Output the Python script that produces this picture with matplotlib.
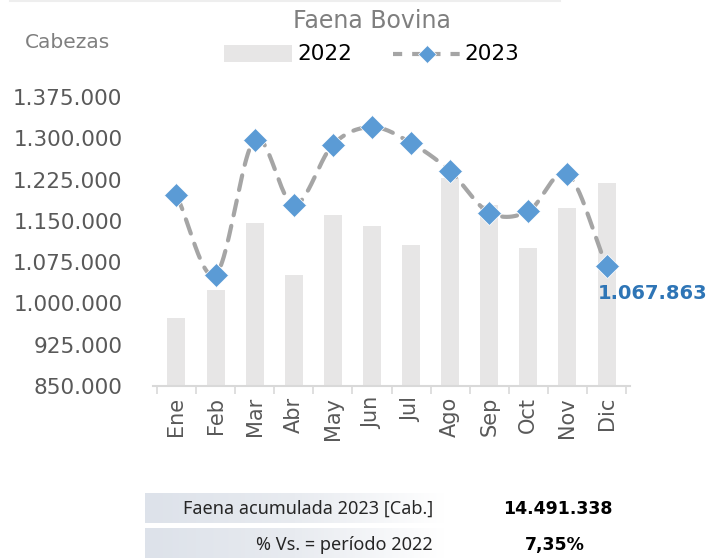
import numpy as np
import matplotlib
matplotlib.use("Agg")
import matplotlib.pyplot as plt
from matplotlib.colors import LinearSegmentedColormap
from matplotlib.lines import Line2D
from matplotlib.patches import Rectangle

meses = ["Ene", "Feb", "Mar", "Abr", "May", "Jun", "Jul", "Ago", "Sep", "Oct", "Nov", "Dic"]
faena_2022 = [974000, 1023500, 1146900, 1052400, 1161400, 1140900,
              1106600, 1227100, 1178900, 1101200, 1173500, 1219200]
faena_2023 = [1196400, 1052400, 1297600, 1178900, 1288500, 1320400,
              1291500, 1240300, 1165000, 1167500, 1234900, 1067863]
y_ticks = [850000, 925000, 1000000, 1075000, 1150000, 1225000, 1300000, 1375000]
acumulado = "14.491.338"
variacion = "7,35%"
ultimo_label = "1.067.863"

GRIS_TXT = "#595959"
GRIS_TIT = "#7f7f7f"
BAR_COLOR = "#e7e6e6"
LINE_COLOR = "#a5a5a5"
MARK_COLOR = "#5b9bd5"
SANS = ["Noto Sans", "DejaVu Sans"]


def miles(v):
    return f"{v:,.0f}".replace(",", ".")


# Catmull-Rom smoothing so the dashed line looks like Excel's smoothed line
def smooth(x, y, n=30):
    x = np.asarray(x, float)
    y = np.asarray(y, float)
    px = np.concatenate([[2 * x[0] - x[1]], x, [2 * x[-1] - x[-2]]])
    py = np.concatenate([[2 * y[0] - y[1]], y, [2 * y[-1] - y[-2]]])
    xs, ys = [], []
    t = np.linspace(0, 1, n)
    for i in range(1, len(px) - 2):
        for p, out in ((px, xs), (py, ys)):
            p0, p1, p2, p3 = p[i - 1], p[i], p[i + 1], p[i + 2]
            out.extend(0.5 * ((2 * p1) + (-p0 + p2) * t
                              + (2 * p0 - 5 * p1 + 4 * p2 - p3) * t ** 2
                              + (-p0 + 3 * p1 - 3 * p2 + p3) * t ** 3))
    return xs, ys


fig = plt.figure(figsize=(7.12, 5.58), dpi=100)
ax = fig.add_axes([153 / 712, 1 - 386 / 558, (630 - 153) / 712, (386 - 97) / 558])

x = np.arange(len(meses))
ax.bar(x, faena_2022, width=0.46, color=BAR_COLOR, zorder=1)
sx, sy = smooth(x, faena_2023)
ax.plot(sx, sy, color=LINE_COLOR, lw=3, ls=(0, (3.6, 2.6)), zorder=2,
        dash_capstyle="round")
ax.plot(x, faena_2023, ls="none", marker="D", ms=12, color=MARK_COLOR,
        mec="white", mew=0.5, zorder=3)
ax.text(x[-1] + 1.17, faena_2023[-1] - 49000, ultimo_label, ha="center", va="center",
        color="#2e75b6", fontsize=14, fontweight="bold", family="DejaVu Sans")

ax.set_xlim(-0.6, len(meses) - 0.4)
ax.set_ylim(y_ticks[0], y_ticks[-1])
ax.set_yticks(y_ticks)
ax.set_yticklabels([miles(v) for v in y_ticks], fontsize=15.5, color=GRIS_TXT)
ax.tick_params(axis="y", length=0, pad=22)
ax.set_xticks(x)
ax.set_xticklabels(meses, rotation=90, fontsize=15, color=GRIS_TXT)
ax.tick_params(axis="x", which="major", length=0, pad=8)
ax.set_xticks(np.arange(-0.5, len(meses), 1), minor=True)
ax.tick_params(axis="x", which="minor", length=6, color="#d9d9d9", width=1.2)
for s in ["top", "right", "left"]:
    ax.spines[s].set_visible(False)
ax.spines["bottom"].set_color("#d9d9d9")
ax.spines["bottom"].set_linewidth(1.5)

# header texts and legend
fig.add_artist(Line2D([10 / 712, 560 / 712], [1 - 1 / 558] * 2, color="#eeeeee", lw=1.5))
fig.text(372 / 712, 1 - 21 / 558, "Faena Bovina", ha="center", va="center",
         fontsize=17, color=GRIS_TIT)
fig.text(25 / 712, 1 - 42 / 558, "Cabezas", ha="left", va="center",
         fontsize=14.5, color=GRIS_TIT)
fig.add_artist(Rectangle((224 / 712, 1 - 62 / 558), 68 / 712, 17 / 558,
                         transform=fig.transFigure, color=BAR_COLOR, lw=0))
fig.text(297 / 712, 1 - 54 / 558, "2022", ha="left", va="center",
         fontsize=15.5, color="black")
fig.add_artist(Line2D([393 / 712, 461 / 712], [1 - 54 / 558] * 2, color=LINE_COLOR,
                      lw=3, ls=(0, (2.2, 2.4))))
fig.add_artist(Line2D([427 / 712], [1 - 54 / 558], ls="none", marker="D", ms=9,
                      color=MARK_COLOR, mec="white", mew=0.5))
fig.text(464 / 712, 1 - 54 / 558, "2023", ha="left", va="center",
         fontsize=15.5, color="black")

# summary table with gradient background
grad = LinearSegmentedColormap.from_list("g", ["#dde2ea", "#e8ebf0", "#ffffff"])
for top, bottom in ((493, 523), (528, 558)):
    gax = fig.add_axes([145 / 712, 1 - bottom / 558, 300 / 712, (bottom - top) / 558])
    gax.imshow(np.linspace(0, 1, 200).reshape(1, -1), aspect="auto", cmap=grad)
    gax.axis("off")

fig.text(433 / 712, 1 - 509 / 558, "Faena acumulada 2023 [Cab.]", ha="right", va="center",
         fontsize=13, color="#262626", family=SANS)
fig.text(558 / 712, 1 - 509 / 558, acumulado, ha="center", va="center",
         fontsize=12.5, color="black", fontweight="bold", family="DejaVu Sans")
fig.text(433 / 712, 1 - 545 / 558, "% Vs. = período 2022", ha="right", va="center",
         fontsize=13, color="#262626", family=SANS)
fig.text(555 / 712, 1 - 545 / 558, variacion, ha="center", va="center",
         fontsize=12.5, color="black", fontweight="bold", family="DejaVu Sans")

fig.savefig("out.png", dpi=100)
